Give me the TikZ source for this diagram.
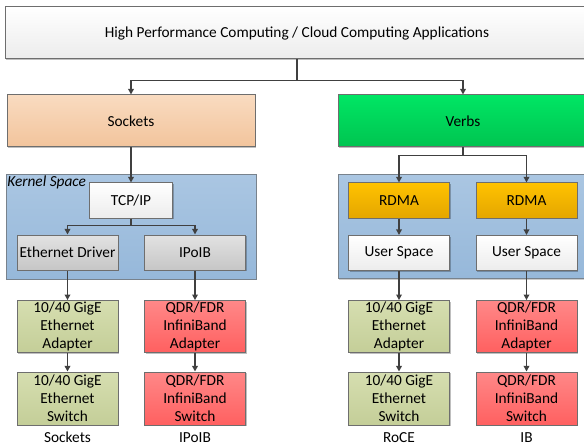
\documentclass[tikz,border=0pt]{standalone}
\usepackage{fontspec}
\setmainfont{Carlito}
\usetikzlibrary{arrows.meta,shadows}

\definecolor{linegray}{RGB}{64,64,64}
\definecolor{boxedge}{RGB}{110,110,110}
\tikzset{every picture/.style={line width=0.75pt}}
\tikzset{
	box/.style={draw=boxedge, minimum width=101*0.75pt, minimum height=35*0.75pt, inner sep=1pt,
		align=center, font=\fontsize{11.5}{13.5}\selectfont,
		drop shadow={shadow xshift=1pt, shadow yshift=-1pt, opacity=0.25, fill=black}},
	whitebox/.style={box, top color=white, bottom color={rgb,255:red,236;green,236;blue,236}},
	graybox/.style={box, top color={rgb,255:red,226;green,226;blue,226}, bottom color={rgb,255:red,198;green,198;blue,198}},
	peachbox/.style={box, top color={rgb,255:red,249;green,219;blue,192}, bottom color={rgb,255:red,242;green,196;blue,156}},
	greenbox/.style={box, top color={rgb,255:red,0;green,230;blue,100}, bottom color={rgb,255:red,0;green,196;blue,80}},
	amberbox/.style={box, top color={rgb,255:red,255;green,194;blue,0}, bottom color={rgb,255:red,228;green,166;blue,0}},
	olivebox/.style={box, top color={rgb,255:red,214;green,222;blue,176}, bottom color={rgb,255:red,196;green,206;blue,152}},
	redbox/.style={box, top color={rgb,255:red,255;green,136;blue,136}, bottom color={rgb,255:red,255;green,96;blue,96}},
	spacebox/.style={draw={rgb,255:red,120;green,130;blue,140}, minimum width=250*0.75pt, minimum height=104*0.75pt,
		top color={rgb,255:red,170;green,198;blue,226}, bottom color={rgb,255:red,150;green,184;blue,218},
		drop shadow={shadow xshift=1pt, shadow yshift=-1pt, opacity=0.2, fill=black}},
	arr/.style={draw=linegray, line width=1.1pt, -{Triangle[length=4.2pt,width=4.2pt]}},
	caption/.style={inner sep=0pt, font=\fontsize{11.5}{13.5}\selectfont}
}

\begin{document}
\begin{tikzpicture}[x=0.75pt,y=0.75pt,yscale=-1,xscale=1]
	\useasboundingbox (0,0) rectangle (584,445);
	\clip (0,0) rectangle (584,445);

	% application layer and the two interfaces
	\node [whitebox, minimum width=584*0.75pt, minimum height=52*0.75pt] (app) at (297,33) {High Performance Computing / Cloud Computing Applications};
	\node [peachbox, minimum width=248*0.75pt, minimum height=52*0.75pt] (sock) at (131,121) {Sockets};
	\node [greenbox, minimum width=250*0.75pt, minimum height=52*0.75pt] (verbs) at (463,121) {Verbs};

	% kernel / user space panels
	\node [spacebox] (kern) at (131,227) {};
	\node [spacebox] (user) at (463,226.5) {};
	\node [anchor=north west, inner sep=1pt, font=\fontsize{11.5}{13.5}\selectfont\itshape] (kernlbl) at (kern.north west) {Kernel Space};

	% left stack
	\node [whitebox, minimum width=83*0.75pt] (tcp) at (131,200.5) {TCP/IP};
	\node [graybox] (eth) at (67.5,252.5) {Ethernet Driver};
	\node [graybox] (ipoib) at (195,252.5) {IPoIB};

	% right stack
	\node [amberbox] (rdmaA) at (399,200.5) {RDMA};
	\node [amberbox] (rdmaB) at (526.5,200.5) {RDMA};
	\node [whitebox] (usA) at (399,253) {User Space};
	\node [whitebox] (usB) at (526.5,253) {User Space};

	% adapters
	\node [olivebox, minimum height=51*0.75pt] (adpA) at (67.5,326.5) {10/40 GigE\\Ethernet\\Adapter};
	\node [redbox, minimum height=51*0.75pt] (adpB) at (195,326.5) {QDR/FDR\\InfiniBand\\Adapter};
	\node [olivebox, minimum height=51*0.75pt] (adpC) at (399,326.5) {10/40 GigE\\Ethernet\\Adapter};
	\node [redbox, minimum height=51*0.75pt] (adpD) at (526.5,326.5) {QDR/FDR\\InfiniBand\\Adapter};

	% switches
	\node [olivebox, minimum height=53*0.75pt] (swA) at (67.5,398.5) {10/40 GigE\\Ethernet\\Switch};
	\node [redbox, minimum height=53*0.75pt] (swB) at (195,398.5) {QDR/FDR\\InfiniBand\\Switch};
	\node [olivebox, minimum height=53*0.75pt] (swC) at (399,398.5) {10/40 GigE\\Ethernet\\Switch};
	\node [redbox, minimum height=53*0.75pt] (swD) at (526.5,398.5) {QDR/FDR\\InfiniBand\\Switch};

	% captions
	\node [caption] (capA) at (67.5,437.5) {Sockets};
	\node [caption] (capB) at (195,437.5) {IPoIB};
	\node [caption] (capC) at (399,437.5) {RoCE};
	\node [caption] (capD) at (526.5,437.5) {IB};

	% connectors
	\draw [arr] (app.south) -- ++(0,21) -| (sock.north);
	\draw [arr] (app.south) -- ++(0,21) -| (verbs.north);
	\draw [arr] (sock.south) -- (tcp.north);
	\draw [arr] (tcp.south) -- ++(0,7) -| (eth.north);
	\draw [arr] (tcp.south) -- ++(0,7) -| (ipoib.north);
	\draw [arr] (verbs.south) -- ++(0,8) -| (rdmaA.north);
	\draw [arr] (verbs.south) -- ++(0,8) -| (rdmaB.north);
	\draw [arr] (rdmaA) -- (usA);
	\draw [arr] (rdmaB) -- (usB);
	\draw [arr] (eth) -- (adpA);
	\draw [arr] (ipoib) -- (adpB);
	\draw [arr] (usA) -- (adpC);
	\draw [arr] (usB) -- (adpD);
	\draw [arr] (adpA) -- (swA);
	\draw [arr] (adpB) -- (swB);
	\draw [arr] (adpC) -- (swC);
	\draw [arr] (adpD) -- (swD);

\end{tikzpicture}
\end{document}
